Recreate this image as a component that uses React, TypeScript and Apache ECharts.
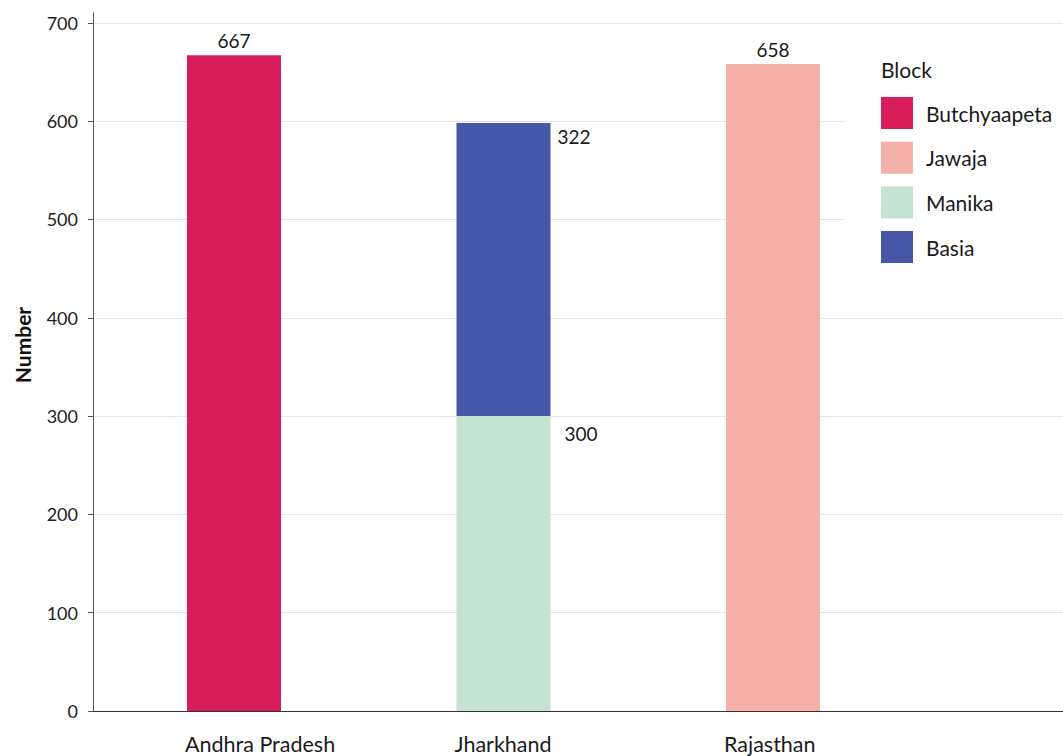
import React, { useEffect, useRef } from "react";
import * as echarts from "echarts";

const categories = ["Andhra Pradesh", "Jharkhand", "Rajasthan"];
const blocks = ["Butchyaapeta", "Jawaja", "Manika", "Basia"];
const blockCategory = [0, 2, 1, 1];
const barValues = [667, 658, 300, 298];
const labelValues = [667, 658, 300, 322];
const blockColors = ["#D91C5A", "#F5B0A7", "#C5E3D2", "#4657A7"];
const yTicks = [0, 100, 200, 300, 400, 500, 600, 700];

const FONT = "Lato";
const Y_MAX = 710;

export default function App() {
  const ref = useRef<HTMLDivElement>(null);
  useEffect(() => {
    const chart = echarts.init(ref.current!, null, { renderer: "svg" });
    const series = blocks.map((b, i) => {
      const stacked = blockCategory[i] === 1;
      let label: any;
      const base = {
        show: true,
        fontFamily: FONT,
        fontSize: 19,
        color: "#1a1a1a",
        formatter: () => String(labelValues[i]),
      };
      if (!stacked) {
        label = { ...base, position: "top", distance: 5 };
      } else if (b === "Manika") {
        label = { ...base, position: ["100%", 0], offset: [14, 8], align: "left", verticalAlign: "top" };
      } else {
        label = { ...base, position: ["100%", 0], offset: [7, 4], align: "left", verticalAlign: "top" };
      }
      return {
        name: b,
        type: "bar",
        xAxisIndex: 0,
        yAxisIndex: 0,
        stack: stacked ? "jh" : undefined,
        barWidth: 94,
        barGap: "-100%",
        itemStyle: { color: blockColors[i] },
        label,
        data: categories.map((_, c) => (c === blockCategory[i] ? barValues[i] : "-")),
      };
    });
    chart.setOption({
      animation: false,
      textStyle: { fontFamily: FONT },
      grid: [
        { left: 99.25, right: 155.25, top: 13, bottom: 45 },
        { left: 93, right: 0, top: 13, bottom: 45 },
        { left: 50.25, right: 204.25, top: 13, bottom: 45 },
      ],
      xAxis: [
        {
          type: "category",
          gridIndex: 0,
          data: categories,
          boundaryGap: true,
          axisLine: { show: false },
          axisTick: { show: false },
          axisLabel: { show: false },
        },
        {
          type: "value",
          gridIndex: 1,
          min: 0,
          max: 1,
          splitLine: { show: false },
          axisLine: { show: true, lineStyle: { color: "#333", width: 1 } },
          axisTick: { show: false },
          axisLabel: { show: false },
        },
        {
          type: "category",
          gridIndex: 2,
          data: categories,
          boundaryGap: true,
          axisLine: { show: false },
          axisTick: { show: false },
          axisLabel: {
            fontFamily: FONT,
            fontSize: 21.5,
            color: "#1a1a1a",
            margin: 22,
            interval: 0,
            align: "left",
          },
        },
      ],
      yAxis: [
        { type: "value", gridIndex: 0, min: 0, max: Y_MAX, show: false },
        {
          type: "value",
          gridIndex: 1,
          min: 0,
          max: Y_MAX,
          interval: 100,
          axisLine: { show: true, lineStyle: { color: "#555" } },
          axisTick: { show: true, length: 5, lineStyle: { color: "#555" }, customValues: yTicks },
          axisLabel: {
            customValues: yTicks,
            fontFamily: FONT,
            fontSize: 18,
            color: "#222",
            margin: 15,
          },
          splitLine: { show: true, lineStyle: { color: "#e6e6e6", width: 1 } },
        },
        { type: "value", gridIndex: 2, min: 0, max: Y_MAX, show: false },
      ],
      legend: {
        data: blocks,
        orient: "vertical",
        left: 881,
        top: 97,
        padding: 0,
        itemWidth: 32,
        itemHeight: 32,
        itemGap: 12.7,
        icon: "rect",
        textStyle: { fontFamily: FONT, fontSize: 21, color: "#1a1a1a", padding: [0, 0, 0, 8] },
        selectedMode: false,
        z: 6,
      },
      graphic: [
        {
          type: "rect",
          z: 3,
          shape: { x: 845, y: 50, width: 218, height: 225 },
          style: { fill: "#ffffff" },
        },
        {
          type: "text",
          z: 7,
          x: 881,
          y: 59,
          style: { text: "Block", fontFamily: FONT, fontSize: 21, fill: "#1a1a1a" },
        },
        {
          type: "text",
          z: 7,
          x: 22,
          y: 345,
          rotation: Math.PI / 2,
          style: {
            text: "Number",
            fontFamily: FONT,
            fontSize: 21,
            fontWeight: "bold",
            fill: "#111",
            align: "center",
            verticalAlign: "middle",
          },
        },
      ],
      series,
    });
    return () => chart.dispose();
  }, []);
  return <div ref={ref} style={{ width: 1063, height: 756, position: "absolute", left: 0, top: 0 }} />;
}
